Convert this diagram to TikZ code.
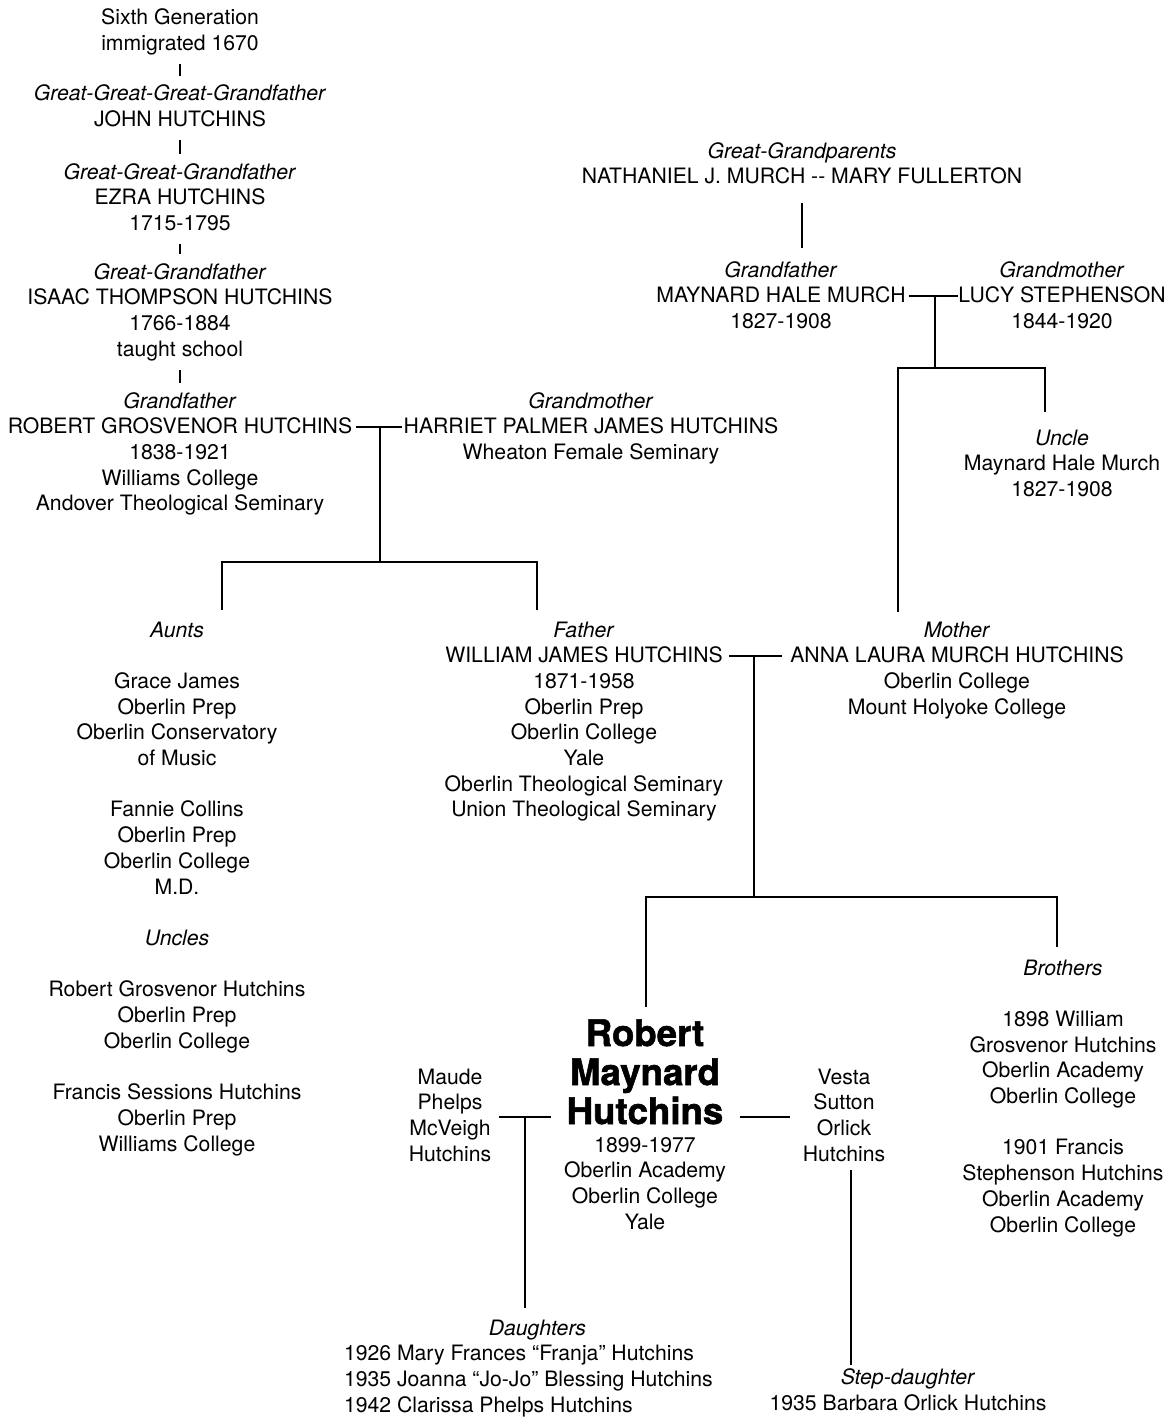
\documentclass[tikz,border=0pt]{standalone}
\usepackage{fontspec}
\setmainfont{TeX Gyre Heros}
\newfontfamily\blackfont{TeX Gyre Heros}[BoldFeatures={FakeBold=1.5}]
\newcommand{\tb}[1]{\begin{tabular}[t]{@{}c@{}}#1\end{tabular}}
\newcommand{\bigbold}{\fontsize{18.3}{19.5}\selectfont\blackfont\bfseries}
\begin{document}
\begin{tikzpicture}[x=0.5pt,y=-0.5pt,
  every node/.style={inner sep=0pt, outer sep=0pt, anchor=base, font=\fontsize{10.6}{12.85}\selectfont},
  conn/.style={line width=0.85pt, line cap=butt}]
\fill[white] (0,0) rectangle (1174,1418);
\useasboundingbox (0,0) rectangle (1174,1418);

% Hutchins line
\node (sixth) at (180,25) {\tb{Sixth Generation\\immigrated 1670}};
\node (jh) at (180,101) {\tb{\textit{Great-Great-Great-Grandfather}\\JOHN HUTCHINS}};
\node (ez) at (180,179) {\tb{\textit{Great-Great-Grandfather}\\EZRA HUTCHINS\\1715-1795}};
\node (it) at (180,279) {\tb{\textit{Great-Grandfather}\\ISAAC THOMPSON HUTCHINS\\1766-1884\\taught school}};
\node (rg) at (180,408) {\tb{\textit{Grandfather}\\ROBERT GROSVENOR HUTCHINS\\1838-1921\\Williams College\\Andover Theological Seminary}};
\node (gm) at (591,408) {\tb{\textit{Grandmother}\\HARRIET PALMER JAMES HUTCHINS\\Wheaton Female Seminary}};

% Murch line
\node (ggp) at (802,158) {\tb{\textit{Great-Grandparents}\\NATHANIEL J. MURCH -{}- MARY FULLERTON}};
\node (mgf) at (781,277) {\tb{\textit{Grandfather}\\MAYNARD HALE MURCH\\1827-1908}};
\node (mgm) at (1062,277) {\tb{\textit{Grandmother}\\LUCY STEPHENSON\\1844-1920}};
\node (uncle) at (1062,445) {\tb{\textit{Uncle}\\Maynard Hale Murch\\1827-1908}};

% Parents generation
\node (aunts) at (177,637) {\tb{\textit{Aunts}\\ \\Grace James\\Oberlin Prep\\Oberlin Conservatory\\of Music\\ \\Fannie Collins\\Oberlin Prep\\Oberlin College\\M.D.\\ \\\textit{Uncles}\\ \\Robert Grosvenor Hutchins\\Oberlin Prep\\Oberlin College\\ \\Francis Sessions Hutchins\\Oberlin Prep\\Williams College}};
\node (father) at (584,637) {\tb{\textit{Father}\\WILLIAM JAMES HUTCHINS\\1871-1958\\Oberlin Prep\\Oberlin College\\Yale\\Oberlin Theological Seminary\\Union Theological Seminary}};
\node (mother) at (957,637) {\tb{\textit{Mother}\\ANNA LAURA MURCH HUTCHINS\\Oberlin College\\Mount Holyoke College}};

% Robert Maynard Hutchins generation
\node[font=\bigbold] (rmh) at (645,1046) {\tb{Robert\\Maynard\\Hutchins}};
\node (rmhinfo) at (645,1152) {\tb{1899-1977\\Oberlin Academy\\Oberlin College\\Yale}};
\node (maude) at (450,1084) {\tb{Maude\\Phelps\\McVeigh\\Hutchins}};
\node (vesta) at (844,1084) {\tb{Vesta\\Sutton\\Orlick\\Hutchins}};
\node (brothers) at (1063,975) {\tb{\textit{Brothers}\\ \\1898 William\\Grosvenor Hutchins\\Oberlin Academy\\Oberlin College\\ \\1901 Francis\\Stephenson Hutchins\\Oberlin Academy\\Oberlin College}};
\node[anchor=base west] (daughters) at (344,1335) {\begin{tabular}[t]{@{}l@{}}\multicolumn{1}{@{\hspace{9pt}}c@{}}{\textit{Daughters}}\\1926 Mary Frances “Franja” Hutchins\\1935 Joanna “Jo-Jo” Blessing Hutchins\\1942 Clarissa Phelps Hutchins\end{tabular}};
\node[anchor=north, align=center] (stepd) at (908,1369) {\textit{Step-daughter}\\1935 Barbara Orlick Hutchins};

% junction coordinates
\coordinate (j1) at (380,427);
\coordinate (h1) at (380,562);
\coordinate (a1) at (222,562);
\coordinate (a2) at (537,562);
\coordinate (j2) at (935,296);
\coordinate (h2) at (935,368);
\coordinate (c1) at (898,368);
\coordinate (c2) at (1045,368);
\coordinate (j3) at (754,656);
\coordinate (h3) at (754,897);
\coordinate (b1) at (646,897);
\coordinate (b2) at (1057,897);
\coordinate (j4) at (525,1117);
\coordinate (v1) at (851,1170);

% ticks of the Hutchins line
\draw[conn, shorten <=3pt, shorten >=3.5pt] (sixth.south) -- (jh.north);
\draw[conn, shorten <=3pt, shorten >=3.5pt] (jh.south) -- (ez.north);
\draw[conn, shorten <=3pt, shorten >=3.5pt] (ez.south) -- (it.north);
\draw[conn, shorten <=3pt, shorten >=3.5pt] (it.south) -- (rg.north);

% grandparents Hutchins
\draw[conn, shorten <=2pt, shorten >=1pt] (rg.east |- j1) -- (gm.west |- j1);
\draw[conn] (j1) -- (h1);
\draw[conn, shorten <=4.5pt, shorten >=4.5pt] (aunts.north -| a1) -- (a1) -- (a2) -- (father.north -| a2);

% Murch
\draw[conn, shorten <=5.8pt, shorten >=5.5pt] (ggp.south) -- (ggp.south |- mgf.north);
\draw[conn, shorten <=1.5pt] (mgf.east |- j2) -- (mgm.west |- j2);
\draw[conn] (j2) -- (h2);
\draw[conn, shorten <=3.5pt, shorten >=7.5pt] (mother.north -| c1) -- (c1) -- (c2) -- (uncle.north -| c2);

% parents
\draw[conn, shorten <=3pt, shorten >=4pt] (father.east |- j3) -- (mother.west |- j3);
\draw[conn] (j3) -- (h3);
\draw[conn, shorten <=5.85pt, shorten >=5pt] (rmh.north -| b1) -- (b1) -- (b2) -- (brothers.north -| b2);

% marriages of RMH
\draw[conn, shorten <=4pt, shorten >=8pt] (maude.east |- j4) -- (rmh.west |- j4);
\draw[conn, shorten <=8.25pt, shorten >=6.5pt] (rmh.east |- j4) -- (vesta.west |- j4);
\draw[conn, shorten >=4.5pt] (j4) -- (daughters.north -| j4);
\draw[conn, shorten >=2pt] (v1) -- (stepd.north -| v1);
\end{tikzpicture}
\end{document}
